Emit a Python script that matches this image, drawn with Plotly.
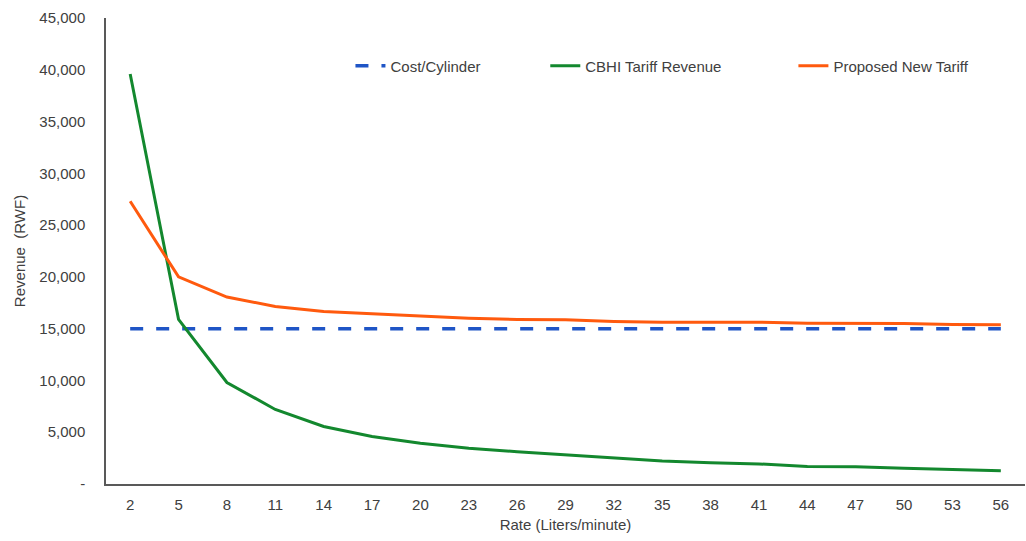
import plotly.graph_objects as go

# Flow rate categories (liters/minute)
rates = ["2", "5", "8", "11", "14", "17", "20", "23", "26", "29", "32", "35",
         "38", "41", "44", "47", "50", "53", "56"]

# Revenue per cylinder (RWF)
cost_per_cylinder = [15000] * 19
cbhi_tariff = [39600, 15900, 9800, 7200, 5550, 4580, 3940, 3450, 3120, 2800,
               2490, 2230, 2060, 1940, 1700, 1660, 1520, 1390, 1270]
proposed_tariff = [27300, 20000, 18050, 17150, 16650, 16450, 16250, 16000, 15880,
                   15850, 15700, 15620, 15620, 15620, 15520, 15500, 15500, 15400, 15380]

y_ticks = [0, 5000, 10000, 15000, 20000, 25000, 30000, 35000, 40000, 45000]
y_tick_text = ["-", "5,000", "10,000", "15,000", "20,000", "25,000", "30,000",
               "35,000", "40,000", "45,000"]

FONT = "Liberation Sans, Arial, sans-serif"
TEXT = "#404040"

fig = go.Figure()
fig.add_trace(go.Scatter(
    x=rates, y=cost_per_cylinder, name="Cost/Cylinder", mode="lines",
    line=dict(color="#1F55C6", width=3.5, dash="13px,13px"), legend="legend"))
fig.add_trace(go.Scatter(
    x=rates, y=cbhi_tariff, name="CBHI Tariff Revenue", mode="lines",
    line=dict(color="#13882E", width=3), legend="legend2"))
fig.add_trace(go.Scatter(
    x=rates, y=proposed_tariff, name="Proposed New Tariff", mode="lines",
    line=dict(color="#FF5A0E", width=3), legend="legend3"))

legend_common = dict(orientation="h", yanchor="middle", y=0.897, xanchor="left",
                     bgcolor="rgba(0,0,0,0)", font=dict(family=FONT, size=15, color=TEXT),
                     itemwidth=30)

fig.update_layout(
    width=1026, height=541,
    margin=dict(l=106, r=1, t=18, b=57),
    paper_bgcolor="white", plot_bgcolor="white",
    font=dict(family=FONT, size=15, color=TEXT),
    showlegend=True,
    legend=dict(x=0.266, **legend_common),
    legend2=dict(x=0.478, **legend_common),
    legend3=dict(x=0.748, **legend_common),
    xaxis=dict(
        type="category", range=[-0.5, len(rates) - 0.5],
        showgrid=False, showline=True, linecolor="#595959",
        linewidth=1.5, ticks="", ticklabelstandoff=6,
        tickfont=dict(family=FONT, size=15, color=TEXT),
        title=dict(text="Rate (Liters/minute)", standoff=8,
                   font=dict(family=FONT, size=15, color=TEXT)),
    ),
    yaxis=dict(
        range=[0, 45000], tickvals=y_ticks, ticktext=y_tick_text,
        showgrid=False, zeroline=False, showline=True, linecolor="#595959",
        linewidth=1.5, ticks="", ticklabelstandoff=16,
        tickfont=dict(family=FONT, size=15, color=TEXT),
        title=dict(text="Revenue\u00a0\u00a0(RWF)", standoff=10,
                   font=dict(family=FONT, size=15, color=TEXT)),
    ),
)

fig.write_html("out.html")
